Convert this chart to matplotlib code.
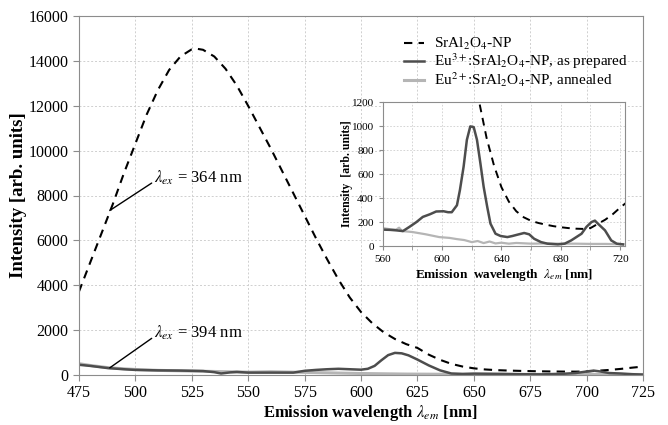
import matplotlib
matplotlib.use('Agg')
from matplotlib import pyplot as plt

plt.rcParams['font.family'] = ['Liberation Serif', 'DejaVu Serif']
plt.rcParams['mathtext.fontset'] = 'stix'

# SrAl2O4-NP (lambda_ex = 364 nm)
wl_sr = [475, 480, 485, 490, 495, 500, 505, 510, 515, 520, 525, 527, 530, 535, 540, 545,
         550, 555, 560, 565, 570, 575, 580, 585, 590, 595, 600, 605, 610, 615, 620, 625,
         630, 635, 640, 645, 650, 655, 660, 665, 670, 675, 680, 685, 690, 695, 700, 705,
         710, 715, 720, 725]
int_sr = [3700, 5000, 6300, 7600, 9000, 10300, 11600, 12700, 13600, 14200, 14520, 14550,
          14500, 14200, 13650, 12900, 12000, 11050, 10100, 9100, 8100, 7100, 6100, 5150,
          4250, 3450, 2800, 2300, 1900, 1600, 1370, 1200, 900, 670, 490, 370, 290, 240,
          210, 192, 178, 166, 157, 150, 145, 143, 150, 185, 220, 265, 320, 370]

# Eu3+:SrAl2O4-NP, as prepared (lambda_ex = 394 nm), main panel
wl_eu3 = [475, 480, 488, 495, 500, 510, 520, 530, 535, 538, 542, 545, 550, 560, 570, 575,
          580, 585, 590, 595, 600, 603, 606, 609, 612, 615, 618, 621, 625, 630, 635, 640,
          645, 650, 660, 670, 680, 690, 695, 700, 703, 706, 710, 715, 720, 725]
int_eu3 = [450, 400, 300, 250, 220, 200, 190, 170, 120, 60, 110, 130, 100, 100, 100, 180,
           220, 250, 270, 250, 230, 270, 400, 650, 880, 980, 960, 870, 680, 420, 200, 60,
           40, 55, 45, 30, 20, 50, 80, 150, 190, 150, 80, 60, 30, 10]

# Eu2+:SrAl2O4-NP, annealed, main panel
wl_eu2 = [475, 480, 488, 495, 500, 510, 520, 530, 540, 550, 560, 575, 590, 600, 620, 640,
          660, 680, 700, 725]
int_eu2 = [500, 420, 320, 270, 240, 200, 180, 160, 140, 120, 140, 110, 80, 60, 35, 25,
           20, 20, 20, 15]

# inset curves (560-722 nm)
wl_eu3_in = [560, 565, 569, 573.6, 578, 582.7, 587, 591.8, 596, 601, 604, 606.5, 610, 612,
             614.5, 616.7, 619, 621.3, 623.5, 625.8, 628, 630.4, 632.6, 636, 639.4, 644,
             647.4, 650.8, 655.3, 658.7, 662, 666.7, 671, 678, 682.6, 687, 690.5, 694,
             697.3, 700.7, 703, 705, 709.8, 714, 717.7, 722]
int_eu3_in = [137, 135, 131, 125, 160, 200, 243, 265, 288, 290, 282, 282, 340, 466, 662,
              885, 997, 991, 885, 690, 494, 327, 187, 103, 84, 75, 84, 95, 109, 98, 61, 33,
              20, 14, 20, 47, 75, 103, 160, 200, 212, 187, 131, 47, 20, 14]
wl_eu2_in = [560, 565, 569, 571, 573, 580, 589, 598, 605, 610, 615, 620, 624, 628, 632, 636,
             640, 645, 650, 660, 670, 680, 690, 700, 710, 722]
int_eu2_in = [150, 140, 137, 153, 125, 117, 98, 75, 68, 58, 50, 33, 42, 25, 38, 22, 28,
              20, 26, 20, 22, 20, 20, 18, 18, 15]

dark = '#4d4d4d'
light = '#b5b5b5'
spine_c = '#8c8c8c'
grid_c = '#cfcfcf'

fig = plt.figure(figsize=(6.68, 4.25), dpi=100)
ax = fig.add_axes([0.118, 0.118, 0.845, 0.844])

l1, = ax.plot(wl_sr, int_sr, color='black', lw=1.5, ls=(0, (4, 3)), label='SrAl$_2$O$_4$-NP')
l2, = ax.plot(wl_eu2, int_eu2, color=light, lw=2.2, label='Eu$^{2+}$:SrAl$_2$O$_4$-NP, annealed')
l3, = ax.plot(wl_eu3, int_eu3, color=dark, lw=1.8, label='Eu$^{3+}$:SrAl$_2$O$_4$-NP, as prepared')

ax.set_xlim(475, 725)
ax.set_ylim(0, 16000)
ax.set_xticks(range(475, 726, 25))
ax.set_yticks(range(0, 16001, 2000))
ax.grid(True, color=grid_c, ls=(0, (2, 2)), lw=0.7)
for s in ax.spines.values():
    s.set_color(spine_c)
ax.tick_params(labelsize=11.5, color=spine_c, length=4)
ax.set_xlabel(r'Emission wavelength $\boldsymbol{\lambda_{em}}$ [nm]', fontsize=12,
              fontweight='bold')
ax.xaxis.set_label_coords(0.516, -0.106)
ax.xaxis.label.set_va('center')
ax.set_ylabel('Intensity [arb. units]', fontsize=13.5, fontweight='bold', labelpad=1)

ax.annotate(r'$\lambda_{ex}$ = 364 nm', xy=(488.7, 7330), xytext=(508.5, 8800),
            fontsize=12, va='center', ha='left',
            arrowprops=dict(arrowstyle='-', color='black', lw=1, shrinkA=0, shrinkB=0,
                            relpos=(0, 0.3)))
ax.annotate(r'$\lambda_{ex}$ = 394 nm', xy=(488.7, 313), xytext=(508.5, 1880),
            fontsize=12, va='center', ha='left',
            arrowprops=dict(arrowstyle='-', color='black', lw=1, shrinkA=0, shrinkB=0,
                            relpos=(0, 0.3)))

ax.legend(handles=[l1, l3, l2], loc='upper right', bbox_to_anchor=(0.99, 0.97),
          frameon=False, fontsize=11, handlelength=1.3, handletextpad=0.7,
          labelspacing=-0.05, borderaxespad=0.2)

# inset
ins = fig.add_axes([0.573, 0.421, 0.362, 0.339])
ins.plot(wl_sr, int_sr, color='black', lw=1.4, ls=(0, (4, 3)))
ins.plot(wl_eu2_in, int_eu2_in, color=light, lw=1.6)
ins.plot(wl_eu3_in, int_eu3_in, color=dark, lw=1.8)
ins.set_xlim(560, 723)
ins.set_ylim(0, 1200)
ins.set_xticks(range(560, 721, 40))
ins.set_xticks(range(560, 721, 20), minor=True)
ins.set_yticks(range(0, 1201, 200))
ins.grid(True, which='both', color=grid_c, ls=(0, (2, 2)), lw=0.6)
for s in ins.spines.values():
    s.set_color(spine_c)
ins.set_facecolor('white')
ins.tick_params(which='both', labelsize=8, color=spine_c, length=3)
ins.set_xlabel(r'Emission  wavelength  $\boldsymbol{\lambda_{em}}$ [nm]', fontsize=9.5,
               fontweight='bold', labelpad=2)
ins.set_ylabel('Intensity  [arb. units]', fontsize=8.5, fontweight='bold', labelpad=-1)

plt.savefig('out.png', dpi=100)
